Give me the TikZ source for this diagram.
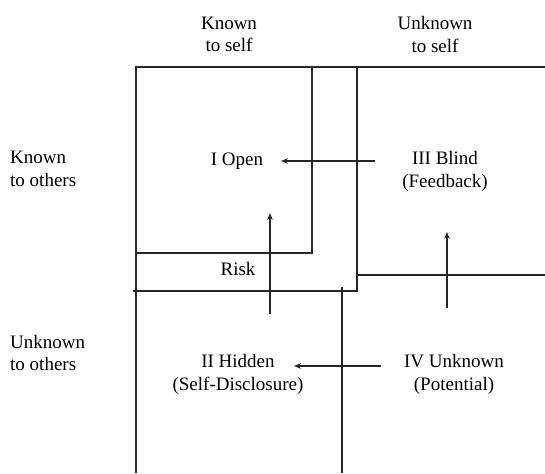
\documentclass[tikz,border=0pt]{standalone}
\usepackage{fontspec}
\setmainfont{Liberation Serif}
\usetikzlibrary{arrows.meta}
\begin{document}
\begin{tikzpicture}[x=1pt,y=-1pt,
  ln/.style={draw=black!85, line width=1.3pt},
  arr/.style={draw=black!85, line width=1.3pt, -{Stealth[length=7pt,width=5.5pt]}},
  lbl/.style={font=\fontsize{19}{22.5}\selectfont, align=center, inner sep=0pt},
  side/.style={font=\fontsize{19}{22.5}\selectfont, align=left, inner sep=0pt, anchor=west}]
\useasboundingbox (0,0) rectangle (545,473);
% headings
\node[lbl] (ks) at (229,34.5) {Known\\to self};
\node[lbl] (us) at (435,34.5) {Unknown\\to self};
\node[side] (ko) at (10,169) {Known\\to others};
\node[side] (uo) at (10,353) {Unknown\\to others};
% quadrant labels
\node[lbl] (open) at (237,161) {I Open};
\node[lbl] (blind) at (445,171.5) {III Blind\\(Feedback)};
\node[lbl] (hidden) at (238,374.5) {II Hidden\\(Self-Disclosure)};
\node[lbl] (unknown) at (454,374.5) {IV Unknown\\(Potential)};
\node[lbl] (risk) at (238,269) {Risk};
% frame lines
\draw[ln] (136,473) -- (136,67) -- (545,67);
\draw[ln] (312,67) -- (312,253) -- (136,253);
\draw[ln] (357,67) -- (357,291) -- (133,291);
\draw[ln] (357,275) -- (545,275);
\draw[ln] (342,287) -- (342,473);
% arrow end points
\coordinate (b1) at (375,161);
\coordinate (t1) at (281,161);
\coordinate (b2) at (270,314);
\coordinate (t2) at (270,213);
\coordinate (b3) at (447,308);
\coordinate (t3) at (447,232);
\coordinate (b4) at (381,366);
\coordinate (t4) at (294,366);
\draw[arr] (b1) -- (t1);
\draw[arr] (b2) -- (t2);
\draw[arr] (b3) -- (t3);
\draw[arr] (b4) -- (t4);
\end{tikzpicture}
\end{document}
